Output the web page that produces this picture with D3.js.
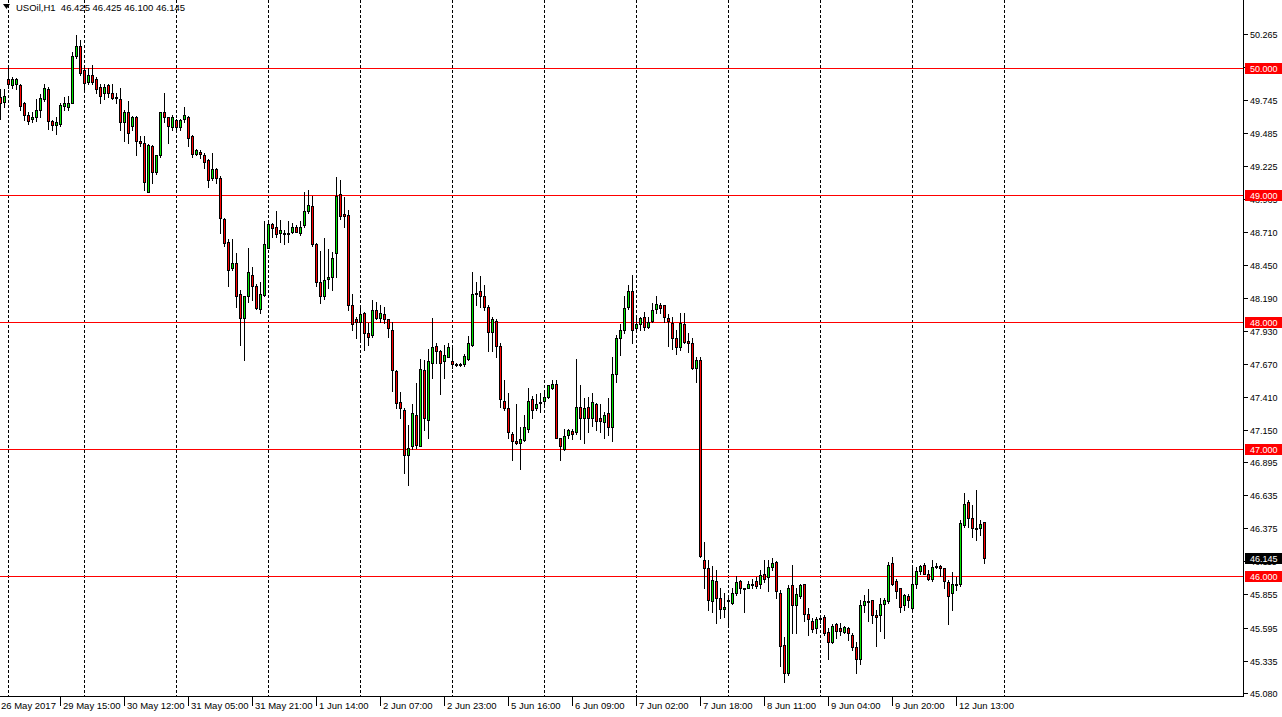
<!DOCTYPE html>
<html>
<head>
<meta charset="utf-8">
<script src="https://cdn.jsdelivr.net/npm/d3@7"></script>
<style>
body { margin: 0; background: #fff; }
svg { display: block; }
text { font-family: "Liberation Sans", Arial, sans-serif; font-size: 9px; }
text.time, text.title { font-size: 9.5px; }
</style>
</head>
<body>
<svg id="chart" width="1282" height="717"></svg>
<script>
// USOil H1 candles (bar 0 = left edge)
var opens = [49.77,49.73,49.91,49.86,49.87,49.86,49.72,49.63,49.60,49.61,49.67,49.75,49.83,49.58,49.55,49.56,49.70,49.69,49.72,50.09,
50.17,49.98,49.89,49.94,49.91,49.85,49.80,49.86,49.80,49.77,49.75,49.57,49.65,49.54,49.61,49.42,49.41,49.02,49.38,49.18,
49.31,49.65,49.61,49.53,49.59,49.53,49.60,49.61,49.46,49.32,49.34,49.31,49.27,49.13,49.20,49.13,48.81,48.63,48.42,48.46,
48.22,48.03,48.20,48.37,48.28,48.10,48.21,48.58,48.77,48.75,48.70,48.70,48.69,48.71,48.75,48.70,48.76,48.87,48.91,48.61,
48.31,48.20,48.34,48.35,48.54,49.01,48.85,48.84,48.13,48.02,48.00,48.07,47.91,47.90,48.09,48.03,48.06,48.02,47.94,47.61,
47.37,47.31,46.95,47.02,47.27,47.02,47.62,47.23,47.68,47.81,47.77,47.69,47.72,47.69,47.67,47.66,47.67,47.71,47.82,48.22,
48.24,48.20,48.12,47.92,48.01,47.81,47.38,47.32,47.12,47.06,47.05,47.07,47.16,47.39,47.32,47.37,47.38,47.41,47.48,47.51,
47.09,47.00,47.11,47.14,47.13,47.33,47.24,47.33,47.24,47.35,47.24,47.21,47.28,47.17,47.59,47.87,47.94,48.12,48.24,47.95,
47.98,48.04,47.96,48.01,48.10,48.13,48.13,48.03,47.99,47.87,47.80,47.98,47.85,47.83,47.64,47.70,46.13,46.06,45.80,45.96,
45.83,45.74,45.81,45.79,45.87,45.96,45.91,45.91,45.93,45.96,45.94,46.02,45.99,46.07,46.11,45.87,45.46,45.24,45.93,45.77,
45.84,45.94,45.70,45.65,45.59,45.67,45.68,45.56,45.48,45.62,45.59,45.56,45.59,45.54,45.44,45.35,45.77,45.795,45.81,45.69,
45.69,45.78,45.80,46.10,45.96,45.91,45.77,45.84,45.75,45.94,46.04,46.09,46.02,45.98,46.07,46.08,46.06,45.95,45.87,45.94,
45.94,46.40,46.58,46.46,46.38,46.38,46.425];
var highs = [49.83,49.83,50.00,49.93,49.92,49.87,49.73,49.65,49.65,49.75,49.79,49.87,49.85,49.59,49.61,49.72,49.77,49.78,50.12,50.26,
50.22,50.02,50.00,50.02,49.93,49.87,49.87,49.87,49.87,49.80,49.84,49.67,49.74,49.62,49.62,49.46,49.46,49.40,49.39,49.31,
49.65,49.80,49.61,49.63,49.60,49.60,49.69,49.62,49.47,49.36,49.35,49.33,49.28,49.33,49.21,49.15,48.82,48.65,48.65,48.54,
48.25,48.20,48.58,48.43,48.30,48.31,48.79,48.79,48.78,48.87,48.80,48.72,48.79,48.78,48.76,48.79,49.02,49.04,48.99,48.62,
48.56,48.66,48.57,48.55,49.14,49.12,48.98,48.88,48.22,48.04,48.13,48.08,47.99,48.17,48.16,48.13,48.12,48.02,48.00,47.62,
47.45,47.32,47.19,47.35,47.52,47.71,47.70,47.79,48.03,47.83,47.78,47.82,47.83,47.82,47.68,47.68,47.75,47.89,48.39,48.31,
48.36,48.29,48.13,48.04,48.02,47.83,47.54,47.44,47.13,47.35,47.17,47.27,47.48,47.42,47.43,47.44,47.44,47.50,47.54,47.54,
47.09,47.16,47.16,47.16,47.71,47.50,47.40,47.41,47.44,47.36,47.35,47.29,47.40,47.72,47.90,47.98,48.20,48.29,48.37,48.04,
48.04,48.08,48.04,48.15,48.20,48.15,48.13,48.06,48.04,47.94,48.07,48.07,47.91,47.87,47.72,47.72,46.27,46.13,46.08,46.05,
45.91,45.87,45.85,45.91,46.00,45.97,45.91,45.96,45.98,45.99,46.05,46.13,46.13,46.14,46.12,45.89,45.52,45.93,46.09,45.91,
45.94,45.94,45.75,45.67,45.68,45.68,45.69,45.59,45.62,45.63,45.63,45.61,45.60,45.55,45.48,45.81,45.85,45.90,45.81,45.73,
45.83,45.83,46.11,46.15,45.98,45.91,45.86,45.86,46.06,46.07,46.09,46.10,46.05,46.13,46.10,46.09,46.06,45.97,46.03,45.99,
46.44,46.65,46.60,46.56,46.68,46.44,46.425];
var lows = [49.60,49.69,49.84,49.84,49.83,49.67,49.59,49.56,49.57,49.58,49.61,49.74,49.52,49.51,49.48,49.54,49.67,49.67,49.72,50.08,
49.94,49.81,49.87,49.87,49.80,49.72,49.75,49.77,49.75,49.72,49.51,49.42,49.41,49.51,49.31,49.38,49.04,49.02,49.09,49.16,
49.30,49.57,49.41,49.51,49.51,49.51,49.57,49.38,49.30,49.31,49.29,49.21,49.06,49.12,49.09,48.70,48.60,48.28,48.41,48.12,
47.82,47.70,48.16,48.17,48.10,48.07,48.20,48.58,48.67,48.67,48.63,48.61,48.63,48.70,48.71,48.68,48.75,48.86,48.60,48.28,
48.15,48.18,48.27,48.25,48.35,48.81,48.75,48.09,47.94,47.87,47.86,47.78,47.82,47.88,48.02,48.00,47.99,47.88,47.46,47.32,
47.24,46.81,46.72,47.00,47.01,47.02,47.15,47.09,47.56,47.68,47.43,47.56,47.72,47.64,47.65,47.65,47.65,47.70,47.81,48.13,
48.12,48.09,47.77,47.77,47.72,47.33,47.31,47.09,46.91,47.04,46.84,47.06,47.13,47.24,47.31,47.29,47.35,47.40,47.47,47.09,
46.91,46.99,47.09,47.08,47.12,47.08,47.05,47.13,47.18,47.15,47.13,47.09,47.11,47.06,47.53,47.74,47.91,48.10,47.83,47.92,
47.94,47.94,47.95,48.00,48.07,48.07,48.00,47.81,47.79,47.75,47.78,47.83,47.76,47.63,47.53,46.15,45.91,45.73,45.72,45.63,
45.67,45.68,45.60,45.78,45.85,45.87,45.72,45.91,45.91,45.91,45.91,45.95,45.88,46.05,45.83,45.29,45.17,45.22,45.55,45.55,
45.83,45.65,45.54,45.56,45.55,45.63,45.54,45.35,45.47,45.51,45.54,45.55,45.50,45.42,45.24,45.31,45.72,45.65,45.63,45.45,
45.57,45.51,45.79,45.93,45.83,45.72,45.73,45.76,45.73,45.91,46.02,46.02,45.97,45.96,46.06,46.00,45.91,45.62,45.73,45.89,
45.92,46.39,46.39,46.31,46.28,46.32,46.100];
var closes = [49.72,49.78,49.87,49.91,49.91,49.70,49.63,49.58,49.61,49.67,49.76,49.84,49.58,49.55,49.57,49.71,49.72,49.72,50.09,50.17,
49.96,49.88,49.94,49.89,49.83,49.78,49.85,49.80,49.76,49.76,49.57,49.65,49.49,49.61,49.42,49.41,49.10,49.39,49.18,49.31,
49.65,49.61,49.54,49.61,49.53,49.59,49.63,49.45,49.32,49.35,49.32,49.26,49.12,49.20,49.13,48.82,48.62,48.41,48.46,48.20,
48.03,48.20,48.39,48.28,48.11,48.22,48.61,48.77,48.74,48.69,48.72,48.69,48.70,48.75,48.71,48.75,48.87,48.92,48.61,48.31,
48.20,48.33,48.35,48.50,48.99,48.83,48.83,48.13,47.98,48.00,48.06,47.91,47.88,48.09,48.03,48.07,48.02,47.95,47.62,47.36,
47.32,46.95,47.01,47.28,47.03,47.63,47.24,47.69,47.80,47.77,47.68,47.74,47.80,47.67,47.66,47.67,47.73,47.83,48.22,48.23,
48.20,48.12,47.92,48.02,47.81,47.39,47.32,47.13,47.06,47.05,47.08,47.17,47.38,47.31,47.35,47.36,47.41,47.50,47.51,47.09,
47.02,47.10,47.15,47.12,47.33,47.24,47.32,47.24,47.37,47.22,47.22,47.27,47.17,47.59,47.87,47.94,48.11,48.24,47.94,47.98,
48.03,47.96,48.00,48.09,48.14,48.11,48.04,48.01,47.87,47.80,47.99,47.84,47.83,47.64,47.70,46.16,46.06,45.81,45.97,45.83,
45.74,45.76,45.80,45.87,45.95,45.91,45.90,45.94,45.94,45.92,46.01,45.98,46.07,46.10,45.88,45.45,45.24,45.91,45.77,45.86,
45.93,45.70,45.66,45.58,45.66,45.66,45.55,45.48,45.61,45.57,45.57,45.60,45.55,45.44,45.35,45.77,45.80,45.805,45.69,45.68,
45.78,45.81,46.09,45.94,45.88,45.76,45.85,45.81,45.94,46.04,46.08,46.02,45.98,46.07,46.08,46.06,45.96,45.84,45.94,45.935,
46.42,46.57,46.46,46.38,46.38,46.41,46.145];

var priceTicks = ['50.265','50.005','49.745','49.485','49.225','48.965','48.710','48.450','48.190','47.930','47.670',
  '47.410','47.150','46.895','46.635','46.375','46.115','45.855','45.595','45.335','45.080'];
var levels = [50, 49, 48, 47, 46];
var lastPrice = 46.145;
var timeLabels = ['26 May 2017','29 May 15:00','30 May 12:00','31 May 05:00','31 May 21:00','1 Jun 14:00',
  '2 Jun 07:00','2 Jun 23:00','5 Jun 16:00','6 Jun 09:00','7 Jun 02:00','7 Jun 18:00','8 Jun 11:00',
  '9 Jun 04:00','9 Jun 20:00','12 Jun 13:00'];
var timeLabelBars = [0,15,31,47,63,79,95,111,127,143,159,175,191,207,223,239];
var gridBars = [2,21,44,67,90,113,136,159,182,205,228,251];

var plotRight = 1243, plotBottom = 696;
var bull = '#00e600', bear = '#ff0000';

var svg = d3.select('#chart');
svg.append('rect').attr('width', 1282).attr('height', 717).attr('fill', '#fff');

var x = d3.scaleLinear().domain([0, 310.75]).range([0, plotRight]);
var y = d3.scaleLinear().domain([45.080, 50.265]).range([693, 34]);
var px = v => Math.round(x(v));
var py = v => Math.round(y(v));

// grid (dashed verticals)
svg.append('g').selectAll('line')
	.data(gridBars)
	.enter()
	.append('line')
	.attr('x1', d => px(d) + 0.5)
	.attr('x2', d => px(d) + 0.5)
	.attr('y1', 0)
	.attr('y2', plotBottom)
	.attr('stroke', '#000')
	.attr('stroke-dasharray', '3,2');

// round number levels
svg.append('g').selectAll('line')
	.data(levels)
	.enter()
	.append('line')
	.attr('x1', 0)
	.attr('x2', plotRight)
	.attr('y1', d => py(d) + 0.5)
	.attr('y2', d => py(d) + 0.5)
	.attr('stroke', '#ff0000');

// candles
var bars = d3.range(opens.length).map(i => ({i: i, o: opens[i], h: highs[i], l: lows[i], c: closes[i]}));
var candles = svg.append('g');
candles.selectAll('line.wick')
	.data(bars)
	.enter()
	.append('line')
	.attr('class', 'wick')
	.attr('x1', d => px(d.i) + 0.5)
	.attr('x2', d => px(d.i) + 0.5)
	.attr('y1', d => py(d.h))
	.attr('y2', d => py(d.l) + 1)
	.attr('stroke', '#000');
candles.selectAll('rect.body')
	.data(bars)
	.enter()
	.append('rect')
	.attr('class', 'body')
	.attr('x', d => px(d.i) - 0.5)
	.attr('y', d => py(Math.max(d.o, d.c)) + 0.5)
	.attr('width', 2)
	.attr('height', d => Math.max(1, py(Math.min(d.o, d.c)) - py(Math.max(d.o, d.c))))
	.attr('fill', d => d.c >= d.o ? bull : bear)
	.attr('stroke', '#000');

// frame
svg.append('line').attr('x1', plotRight + 0.5).attr('x2', plotRight + 0.5)
	.attr('y1', 0).attr('y2', plotBottom + 1).attr('stroke', '#000');
svg.append('line').attr('x1', 0).attr('x2', plotRight + 1)
	.attr('y1', plotBottom + 0.5).attr('y2', plotBottom + 0.5).attr('stroke', '#000');

// price axis
var yAxis = svg.append('g');
yAxis.selectAll('line')
	.data(priceTicks)
	.enter()
	.append('line')
	.attr('x1', plotRight)
	.attr('x2', plotRight + 5)
	.attr('y1', d => py(+d) + 0.5)
	.attr('y2', d => py(+d) + 0.5)
	.attr('stroke', '#000');
yAxis.selectAll('text')
	.data(priceTicks)
	.enter()
	.append('text')
	.attr('x', plotRight + 7)
	.attr('y', d => py(+d) + 4)
	.text(d => d);

// level tags + last price tag (they sit over the axis labels, as in the terminal)
var tags = levels.map(v => ({v: v, fill: '#ff0000'})).concat([{v: lastPrice, fill: '#000'}]);
var tagG = svg.append('g');
tagG.selectAll('rect')
	.data(tags)
	.enter()
	.append('rect')
	.attr('x', plotRight + 2)
	.attr('y', d => py(d.v) - 5)
	.attr('width', 1282 - plotRight - 2)
	.attr('height', 11)
	.attr('fill', d => d.fill);
tagG.selectAll('text')
	.data(tags)
	.enter()
	.append('text')
	.attr('x', plotRight + 7)
	.attr('y', d => py(d.v) + 4)
	.attr('fill', '#fff')
	.text(d => d.v.toFixed(3));

// time axis
var xAxis = svg.append('g');
xAxis.selectAll('line')
	.data(timeLabelBars.slice(1))
	.enter()
	.append('line')
	.attr('x1', d => px(d) + 0.5)
	.attr('x2', d => px(d) + 0.5)
	.attr('y1', plotBottom + 1)
	.attr('y2', plotBottom + 10)
	.attr('stroke', '#000');
xAxis.selectAll('text')
	.data(timeLabels)
	.enter()
	.append('text')
	.attr('class', 'time')
	.attr('x', (d, i) => i == 0 ? 1 : px(timeLabelBars[i]) + 3)
	.attr('y', plotBottom + 13)
	.text(d => d);

// title
svg.append('path').attr('d', 'M3,4 L10,4 L6.5,9 Z').attr('fill', '#000');
svg.append('text').attr('class', 'title').attr('x', 16).attr('y', 11)
	.attr('xml:space', 'preserve')
	.text('USOil,H1  46.425 46.425 46.100 46.145');
</script>
</body>
</html>
